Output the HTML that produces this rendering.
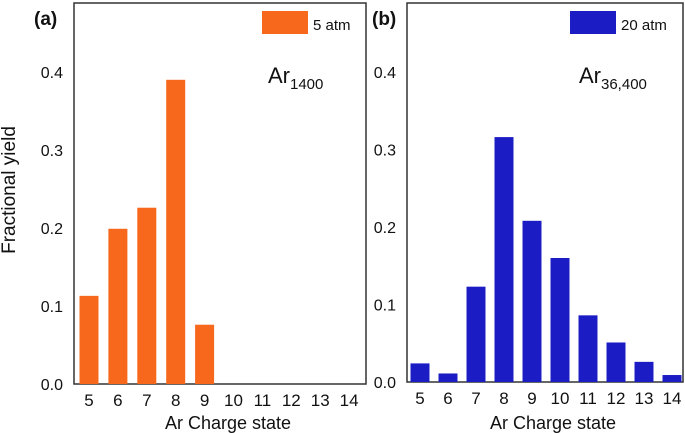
<!DOCTYPE html>
<html><head><meta charset="utf-8"><style>
html,body{margin:0;padding:0;background:#fff;width:685px;height:433px;overflow:hidden}
svg text{font-family:"Liberation Sans",sans-serif}
</style></head><body>
<svg id="chart" width="685" height="433" xmlns="http://www.w3.org/2000/svg"></svg>
<script>
const categories=["5","6","7","8","9","10","11","12","13","14"];
const valuesA=[0.113,0.199,0.226,0.390,0.076,0,0,0,0,0];
const valuesB=[0.024,0.011,0.123,0.316,0.208,0.160,0.086,0.051,0.026,0.009];
const yTicks=[0.0,0.1,0.2,0.3,0.4];
const yTickLabels=["0.0","0.1","0.2","0.3","0.4"];
const svg=document.getElementById('chart');
const NS='http://www.w3.org/2000/svg';
function mk(tag,attrs,parent){const e=document.createElementNS(NS,tag);for(const k in attrs)e.setAttribute(k,attrs[k]);(parent||svg).appendChild(e);return e;}
function panel(p){
  const g=mk('g',{});
  
  
  const y=v=>p.y0-v*p.unit;
  const x=i=>p.c0+i*p.step;
  const fr=mk('rect',{x:p.left,y:3,width:p.right-p.left,height:p.y0-3,fill:'none',stroke:'#333','stroke-width':1.5},g);
  
  
  yTicks.forEach((t,i)=>{
    const tl=mk('text',{x:p.left-11,y:y(t)+6,'text-anchor':'end','font-size':16,fill:'#111'},g);
    tl.textContent=yTickLabels[i];
    
    
  });
  categories.forEach((c,i)=>{
    const v=p.vals[i];
    if(v>0){
      const b=mk('rect',{x:x(i)-9.5,y:y(v),width:19,height:y(0)-y(v),fill:p.color},g);
      
      
    }
    const tl=mk('text',{x:x(i),y:p.y0+22,'text-anchor':'middle','font-size':17,fill:'#111'},g);
    tl.textContent=c;
    
    
  });
  const xt=mk('text',{x:(p.left+p.right)/2+8,y:429,'text-anchor':'middle','font-size':18,fill:'#111'},g);
  xt.textContent='Ar Charge state';
  
  
  const lab=mk('text',{x:p.labX,y:25,'font-size':19,'font-weight':'bold','font-family':'Liberation Serif, serif',fill:'#111'},g);
  lab.textContent=p.label;
  
  
  const lr=mk('rect',{x:p.legX,y:11,width:46,height:23,fill:p.color},g);
  
  
  const lt=mk('text',{x:p.legX+51,y:30,'font-size':15,fill:'#111'},g);
  lt.textContent=p.legend;
  
  
  const an=mk('text',{x:p.annX,y:83,'font-size':22,fill:'#111'},g);
  an.innerHTML='Ar<tspan font-size="15" dy="6">'+p.sub+'</tspan>';
  
  
}
panel({name:'panel-a',left:74,right:366,y0:384,unit:780,c0:89,step:28.9,vals:valuesA,color:'#f7681c',label:'(a)',labX:34,legX:262,legend:'5 atm',annX:268,sub:'1400'});
panel({name:'panel-b',left:407,right:683,y0:382,unit:775,c0:420,step:28,vals:valuesB,color:'#1c1cc4',label:'(b)',labX:372,legX:570,legend:'20 atm',annX:579,sub:'36,400'});
const yt=mk('text',{x:0,y:0,'text-anchor':'middle','font-size':19,fill:'#111',transform:'translate(15,190) rotate(-90)'});
yt.textContent='Fractional yield';


</script>
</body></html>
